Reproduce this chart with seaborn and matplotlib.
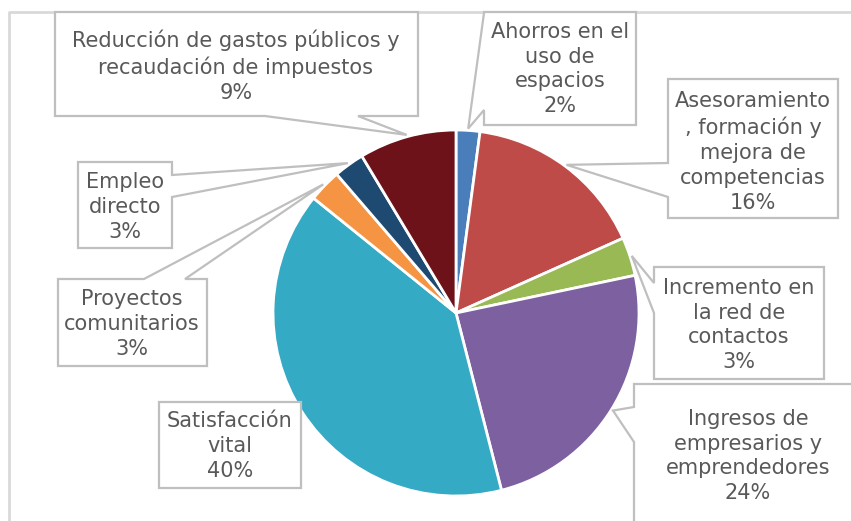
import numpy as np
import matplotlib
matplotlib.use("Agg")
import matplotlib.pyplot as plt
import seaborn as sns
from matplotlib.patches import Polygon

# =========================
# DATOS
# =========================
categorias = [
    "Ahorros en el\nuso de\nespacios",
    "Asesoramiento\n, formación y\nmejora de\ncompetencias",
    "Incremento en\nla red de\ncontactos",
    "Ingresos de\nempresarios y\nemprendedores",
    "Satisfacción\nvital",
    "Proyectos\ncomunitarios",
    "Empleo\ndirecto",
    "Reducción de gastos públicos y\nrecaudación de impuestos",
]
valores = [2.1, 16.2, 3.4, 24.3, 39.8, 2.9, 2.7, 8.6]
colores = ["#4A7EBB", "#BE4B48", "#98B954", "#7D60A0", "#35AAC4",
           "#F59443", "#1E4A72", "#6E1219"]

# =========================
# LAYOUT (pixeles, origen arriba-izquierda)
# =========================
W, H = 851, 521
CX, CY, R = 456, 313, 183

# caja (x0, y0, x1, y1), centro de texto, lado de la flecha, base de la flecha
cajas = [
    ((484, 12, 636, 125), (560, 69), "left", (13, 110)),
    ((668, 79, 838, 218), (753, 152), "left", (163, 197)),
    ((654, 267, 824, 379), (739, 325), "left", (283, 313)),
    ((634, 384, 880, 540), (748, 456), "left", (407, 442)),
    ((159, 402, 301, 488), (230, 446), None, None),
    ((58, 279, 207, 366), (132, 324), "top", (144, 185)),
    ((78, 162, 172, 248), (125, 207), "right", (175, 197)),
    ((55, 12, 418, 116), (236, 66), "bottom", (265, 358)),
]

sns.set_theme(style="white")
plt.rcParams["font.family"] = ["DejaVu Sans"]

fig = plt.figure(figsize=(W / 100, H / 100), dpi=100)
ax = fig.add_axes([0, 0, 1, 1])

wedges, _ = ax.pie(
    valores,
    colors=colores,
    startangle=90,
    counterclock=False,
    center=(CX, H - CY),
    radius=R,
    wedgeprops=dict(edgecolor="white", linewidth=2),
)
ax.set_xlim(0, W)
ax.set_ylim(0, H)
ax.set_aspect("auto")
ax.axis("off")

# marco exterior
ax.plot([9, 9, W + 5], [-5, H - 12, H - 12], color="#D9D9D9", lw=2,
        solid_capstyle="butt", zorder=1)


def callout(caja, centro, lado, base, tip, texto):
    x0, y0, x1, y1 = caja
    pts = [(x0, y0)]
    if lado == "top":
        pts += [(base[0], y0), tip, (base[1], y0)]
    pts += [(x1, y0)]
    if lado == "right":
        pts += [(x1, base[0]), tip, (x1, base[1])]
    pts += [(x1, y1)]
    if lado == "bottom":
        pts += [(base[1], y1), tip, (base[0], y1)]
    pts += [(x0, y1)]
    if lado == "left":
        pts += [(x0, base[1]), tip, (x0, base[0])]
    pts = [(x, H - y) for x, y in pts]
    ax.add_patch(Polygon(pts, closed=True, facecolor="white",
                         edgecolor="#BFBFBF", lw=1.6, zorder=3))
    ax.text(centro[0], H - centro[1], texto, ha="center", va="center",
            fontsize=15, color="#595959", linespacing=1.3, zorder=4)


for w, cat, val, (caja, centro, lado, base) in zip(wedges, categorias, valores, cajas):
    ang = np.deg2rad((w.theta1 + w.theta2) / 2)
    tx = CX + 1.01 * R * np.cos(ang)
    ty = CY - 1.01 * R * np.sin(ang)
    callout(caja, centro, lado, base, (tx, ty), f"{cat}\n{val:.0f}%")

fig.savefig("out.png", dpi=100)
